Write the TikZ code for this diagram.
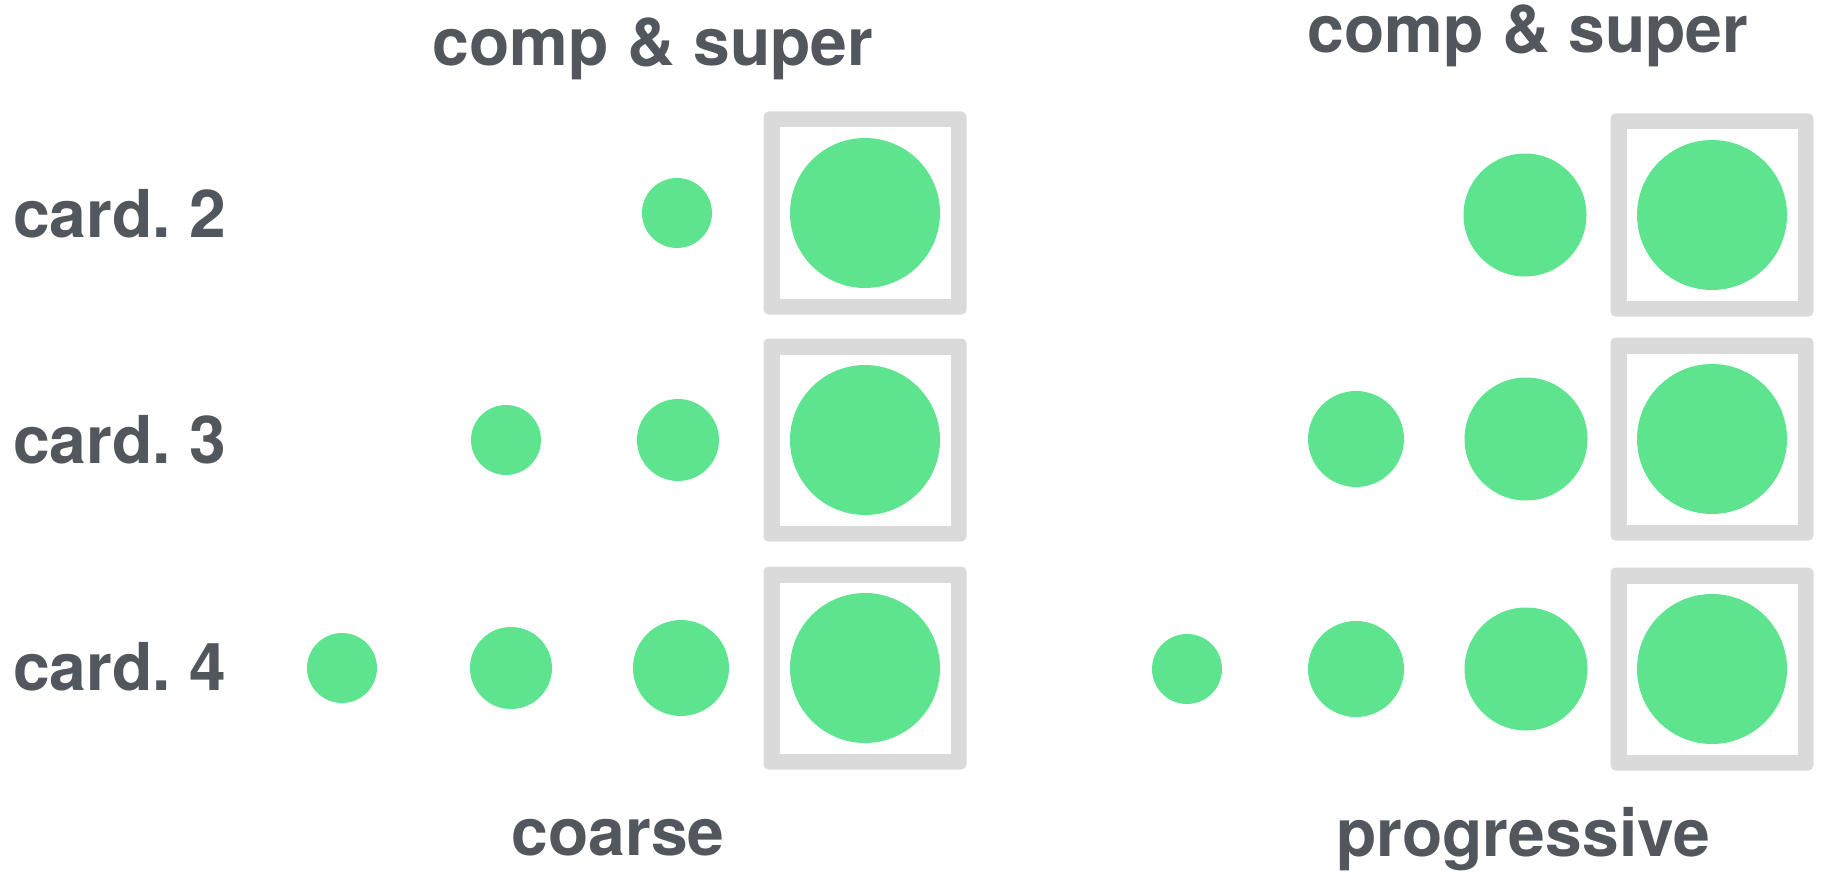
\documentclass[tikz,border=0pt]{standalone}
\usepackage{fontspec}
\setmainfont{TeX Gyre Heros}
\definecolor{ink}{HTML}{51575D}
\definecolor{dot}{HTML}{5EE48F}
\definecolor{framegray}{HTML}{DADADA}
\begin{document}
\begin{tikzpicture}[x=1pt,y=-1pt,
  lbl/.style={font=\fontsize{66}{79}\selectfont\bfseries, text=ink, inner sep=0pt},
  dotnode/.style={circle, fill=dot, inner sep=0pt, minimum size=#1},
  frameout/.style={rectangle, fill=framegray, rounded corners=5pt, inner sep=0pt, minimum size=203pt},
  framein/.style={rectangle, fill=white, inner sep=0pt, minimum size=171pt}]
\useasboundingbox (0,0) rectangle (1822,872);

% column titles and captions
\node[lbl, anchor=base] (tl) at (653,66) {comp \& super};
\node[lbl, anchor=base] (tr) at (1528,53) {comp \& super};
\node[lbl, anchor=base] (bl) at (618,855) {coarse};
\node[lbl, anchor=base] (br) at (1523,856) {progressive};

% row labels
\node[lbl, anchor=base west] (c2) at (13,237) {card.\hspace{0.275em}2};
\node[lbl, anchor=base west] (c3) at (13,463) {card.\hspace{0.275em}3};
\node[lbl, anchor=base west] (c4) at (13,690) {card.\hspace{0.275em}4};

% coarse: framed result per row
\node[frameout] (lo1) at (865,213) {};
\node[framein]  (li1) at (865,213) {};
\node[frameout] (lo2) at (865,440) {};
\node[framein]  (li2) at (865,440) {};
\node[frameout] (lo3) at (865,668) {};
\node[framein]  (li3) at (865,668) {};
\node[dotnode=150pt] (lb1) at (865,213) {};
\node[dotnode=150pt] (lb2) at (865,440) {};
\node[dotnode=150pt] (lb3) at (865,668) {};

% coarse: inputs
\node[dotnode=70pt] (l13) at (677,213) {};
\node[dotnode=70pt] (l22) at (506,440) {};
\node[dotnode=82pt] (l23) at (678,440) {};
\node[dotnode=70pt] (l31) at (342,668) {};
\node[dotnode=82pt] (l32) at (511,668) {};
\node[dotnode=96pt] (l33) at (681,668) {};

% progressive: framed result per row
\node[frameout] (ro1) at (1712,215) {};
\node[framein]  (ri1) at (1712,215) {};
\node[frameout] (ro2) at (1712,439) {};
\node[framein]  (ri2) at (1712,439) {};
\node[frameout] (ro3) at (1712,669) {};
\node[framein]  (ri3) at (1712,669) {};
\node[dotnode=150pt] (rb1) at (1712,215) {};
\node[dotnode=150pt] (rb2) at (1712,439) {};
\node[dotnode=150pt] (rb3) at (1712,669) {};

% progressive: inputs
\node[dotnode=123pt] (r13) at (1525,215) {};
\node[dotnode=96pt]  (r22) at (1356,439) {};
\node[dotnode=123pt] (r23) at (1526,439) {};
\node[dotnode=70pt]  (r31) at (1187,669) {};
\node[dotnode=96pt]  (r32) at (1356,669) {};
\node[dotnode=123pt] (r33) at (1526,669) {};
\end{tikzpicture}
\end{document}
